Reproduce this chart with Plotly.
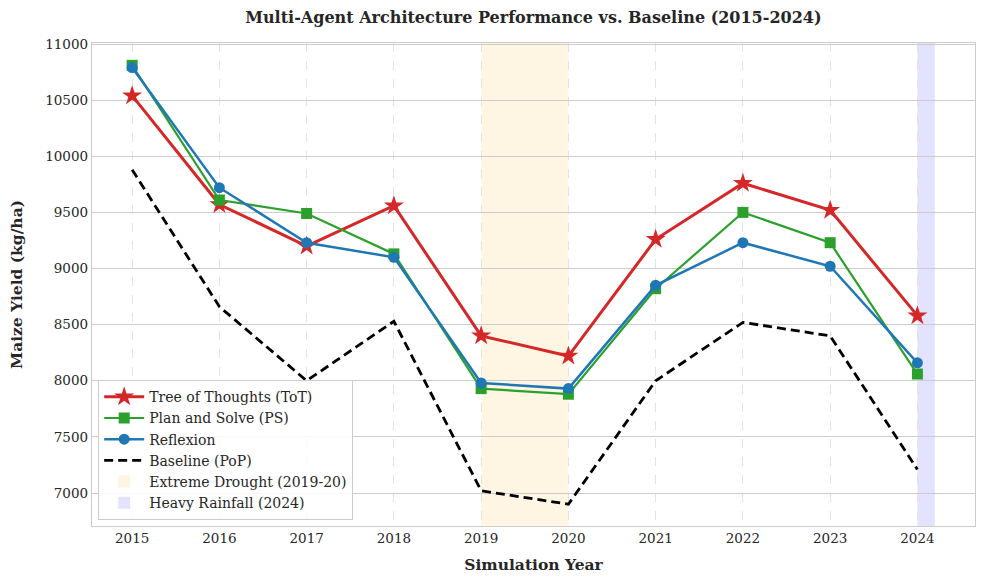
import plotly.graph_objects as go

years = [2015, 2016, 2017, 2018, 2019, 2020, 2021, 2022, 2023, 2024]
tot = [10540, 9570, 9200, 9560, 8400, 8220, 9260, 9760, 9520, 8580]
ps = [10810, 9610, 9490, 9130, 7930, 7880, 8820, 9500, 9230, 8060]
reflexion = [10790, 9720, 9230, 9100, 7980, 7930, 8850, 9230, 9020, 8160]
baseline = [9880, 8660, 8000, 8530, 7020, 6900, 8000, 8520, 8400, 7210]

drought_span = [2019, 2020]
rain_span = [2024, 2024.2]

FONT = "'DejaVu Serif', 'Liberation Serif', serif"

fig = go.Figure()
fig.add_trace(go.Scatter(x=years, y=tot, name="Tree of Thoughts (ToT)", mode="lines+markers",
                         line=dict(color="#d62728", width=3),
                         marker=dict(symbol="star", size=15, color="#d62728"), legendrank=1))
fig.add_trace(go.Scatter(x=years, y=ps, name="Plan and Solve (PS)", mode="lines+markers",
                         line=dict(color="#2ca02c", width=2.2),
                         marker=dict(symbol="square", size=11, color="#2ca02c"), legendrank=2))
fig.add_trace(go.Scatter(x=years, y=reflexion, name="Reflexion", mode="lines+markers",
                         line=dict(color="#1f77b4", width=2.5),
                         marker=dict(symbol="circle", size=11, color="#1f77b4"), legendrank=3))
fig.add_trace(go.Scatter(x=years, y=baseline, name="Baseline (PoP)", mode="lines",
                         line=dict(color="black", width=2.8, dash="9px,5px"), legendrank=4))

fig.add_shape(type="rect", xref="x", yref="y domain", x0=drought_span[0], x1=drought_span[1], y0=0, y1=1,
              fillcolor="rgba(255,165,0,0.11)", line=dict(width=0), layer="below",
              showlegend=True, name="Extreme Drought (2019-20)", legendrank=5)
fig.add_shape(type="rect", xref="x", yref="y domain", x0=rain_span[0], x1=rain_span[1], y0=0, y1=1,
              fillcolor="rgba(0,0,255,0.11)", line=dict(width=0), layer="below",
              showlegend=True, name="Heavy Rainfall (2024)", legendrank=6)

fig.update_layout(
    width=985, height=585,
    margin=dict(l=92, r=10, t=43, b=59),
    paper_bgcolor="white", plot_bgcolor="white",
    font=dict(family=FONT, size=13, color="#262626"),
    title=dict(text="<b>Multi-Agent Architecture Performance vs. Baseline (2015-2024)</b>",
               x=0.5415, xanchor="center", y=0.97, yanchor="middle",
               font=dict(family=FONT, size=16, color="#262626")),
    legend=dict(x=0.007, y=0.012, xanchor="left", yanchor="bottom",
                bgcolor="rgba(255,255,255,0.85)", bordercolor="#cccccc", borderwidth=1,
                font=dict(family=FONT, size=14, color="#262626"), tracegroupgap=0,
                itemwidth=40),
    xaxis=dict(range=[2014.54, 2024.66], tickmode="array", tickvals=years,
               ticktext=[str(y) for y in years],
               showgrid=True, gridcolor="#e3e3e3", griddash="dash", gridwidth=1,
               showline=True, linecolor="#cccccc", linewidth=1.3, mirror=True,
               ticks="", zeroline=False,
               title=dict(text="<b>Simulation Year</b>", font=dict(family=FONT, size=15.5), standoff=13),
               tickfont=dict(family=FONT, size=13.5)),
    yaxis=dict(range=[6706, 11009], tickmode="linear", tick0=7000, dtick=500, tickformat="d",
               showgrid=True, gridcolor="#cccccc", gridwidth=1,
               showline=True, linecolor="#cccccc", linewidth=1.3, mirror=True,
               ticks="", zeroline=False,
               title=dict(text="<b>Maize Yield (kg/ha)</b>", font=dict(family=FONT, size=15.5), standoff=18),
               tickfont=dict(family=FONT, size=13.5)),
)

fig.write_html("out.html")
